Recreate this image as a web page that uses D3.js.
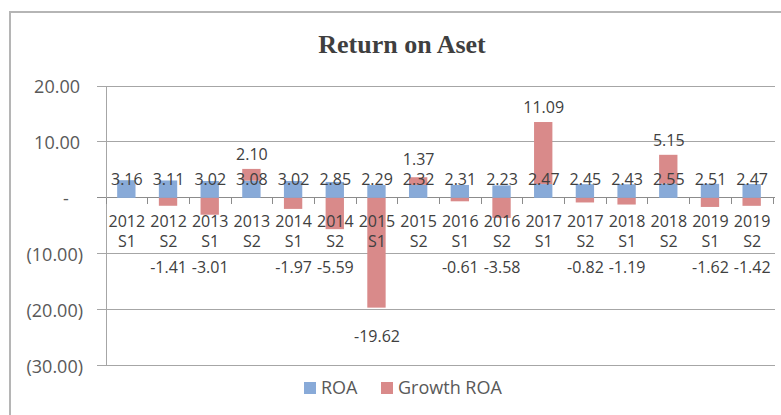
<!DOCTYPE html>
<html><head><meta charset="utf-8">
<script src="https://cdn.jsdelivr.net/npm/d3@7"></script>
<style>
html,body{margin:0;padding:0;background:#fff;}
svg{display:block;}
</style></head>
<body>
<svg id="chart" width="781" height="415"></svg>
<script>
const categories = ["2012 S1","2012 S2","2013 S1","2013 S2","2014 S1","2014 S2","2015 S1","2015 S2",
  "2016 S1","2016 S2","2017 S1","2017 S2","2018 S1","2018 S2","2019 S1","2019 S2"];
const roa = [3.16,3.11,3.02,3.08,3.02,2.85,2.29,2.32,2.31,2.23,2.47,2.45,2.43,2.55,2.51,2.47];
const growthRoa = [null,-1.41,-3.01,2.10,-1.97,-5.59,-19.62,1.37,-0.61,-3.58,11.09,-0.82,-1.19,5.15,-1.62,-1.42];
const yTicks = [20,10,0,-10,-20,-30];
const seriesNames = ["ROA","Growth ROA"];
const colors = ["#88aad8","#d98a8a"];

const svg = d3.select("#chart");
const W = 781, H = 415;
const plot = {left:106, right:773, top:86, bottom:365.7};

// outer chart border
svg.append("rect").attr("x",10).attr("y",12).attr("width",W+20).attr("height",H+20)
  .attr("fill","#fff").attr("stroke","#b5b5b5").attr("stroke-width",2);

// title
svg.append("text").attr("x",402).attr("y",53).attr("text-anchor","middle")
  .attr("font-family","'Liberation Serif','Times New Roman',serif").attr("font-weight","bold")
  .attr("font-size",26).attr("fill","#3f3f3f").text("Return on Aset");

const y = d3.scaleLinear().domain([-30,20]).range([plot.bottom, plot.top]);
const x = d3.scaleBand().domain(categories).range([plot.left, plot.right]).padding(0);
const bw = x.bandwidth()*0.44;
const bx = c => x(c) + (x.bandwidth()-bw)/2 - 0.5;

const font = "'Open Sans','Noto Sans',sans-serif";

// gridlines
svg.append("g").selectAll("line").data(yTicks).join("line")
  .attr("x1",97).attr("x2",775).attr("y1",d=>y(d)).attr("y2",d=>y(d))
  .attr("stroke",d=>d===0?"#8c8c8c":"#a6a6a6").attr("stroke-width",1).attr("shape-rendering","crispEdges");
// left axis line
svg.append("line").attr("x1",plot.left).attr("x2",plot.left).attr("y1",y(20)).attr("y2",y(-30))
  .attr("stroke","#a6a6a6").attr("shape-rendering","crispEdges");

// y tick labels (accounting format)
const fmtY = d => d===0 ? "-" : d<0 ? "(" + d3.format(".2f")(-d) + ")" : d3.format(".2f")(d);
svg.append("g").selectAll("text").data(yTicks).join("text")
  .attr("x",d=>d===0?66:(d<0?83:80)).attr("y",d=>y(d)+7)
  .attr("text-anchor",d=>d===0?"middle":"end")
  .attr("font-family",font).attr("font-size",18).attr("fill","#595959")
  .text(fmtY);

// bars: ROA
svg.append("g").selectAll("rect").data(categories).join("rect")
  .attr("x",c=>bx(c)).attr("width",bw)
  .attr("y",(c,i)=>y(roa[i])).attr("height",(c,i)=>y(0)-y(roa[i]))
  .attr("fill",colors[0]);
// bars: Growth ROA (stacked)
const gData = categories.map((c,i)=>({c, v:growthRoa[i], base: growthRoa[i]>0 ? roa[i] : 0})).filter(d=>d.v!==null);
svg.append("g").selectAll("rect").data(gData).join("rect")
  .attr("x",d=>bx(d.c)).attr("width",bw)
  .attr("y",d=>Math.min(y(d.base), y(d.base+d.v)))
  .attr("height",d=>Math.abs(y(d.base)-y(d.base+d.v)))
  .attr("fill",colors[1]);

// category ticks
const bounds = categories.map(c=>x(c)).concat([plot.right]);
svg.append("g").selectAll("line").data(bounds).join("line")
  .attr("x1",d=>d).attr("x2",d=>d).attr("y1",y(0)).attr("y2",y(0)+6)
  .attr("stroke","#8c8c8c").attr("shape-rendering","crispEdges");

// category labels
const cl = svg.append("g").selectAll("text").data(categories).join("text")
  .attr("text-anchor","middle").attr("font-family",font).attr("font-size",16).attr("fill","#404040");
cl.append("tspan").attr("x",c=>x(c)+x.bandwidth()/2).attr("y",y(0)+29).text(c=>c.split(" ")[0]);
cl.append("tspan").attr("x",c=>x(c)+x.bandwidth()/2).attr("y",y(0)+49).text(c=>c.split(" ")[1]);

// ROA data labels
svg.append("g").selectAll("text").data(categories).join("text")
  .attr("x",c=>x(c)+x.bandwidth()/2).attr("y",y(0)-13)
  .attr("text-anchor","middle").attr("font-family",font).attr("font-size",16).attr("fill","#404040")
  .text((c,i)=>roa[i].toFixed(2));

// Growth data labels
svg.append("g").selectAll("text").data(gData).join("text")
  .attr("x",d=>x(d.c)+x.bandwidth()/2)
  .attr("y",d=> d.v>0 ? Math.min(y(d.base+d.v)-9, y(0)-33) : Math.max(y(d.v)+34, y(0)+75))
  .attr("text-anchor","middle").attr("font-family",font).attr("font-size",16).attr("fill","#404040")
  .text(d=>d.v.toFixed(2));

// legend
const leg = svg.append("g");
const legX = [304, 381];
seriesNames.forEach((n,i)=>{
  leg.append("rect").attr("x",legX[i]).attr("y",382).attr("width",12).attr("height",12).attr("fill",colors[i]);
  leg.append("text").attr("x",legX[i]+17).attr("y",393.5).attr("font-family",font).attr("font-size",18)
    .attr("fill","#595959").text(n);
});
</script>
</body></html>
